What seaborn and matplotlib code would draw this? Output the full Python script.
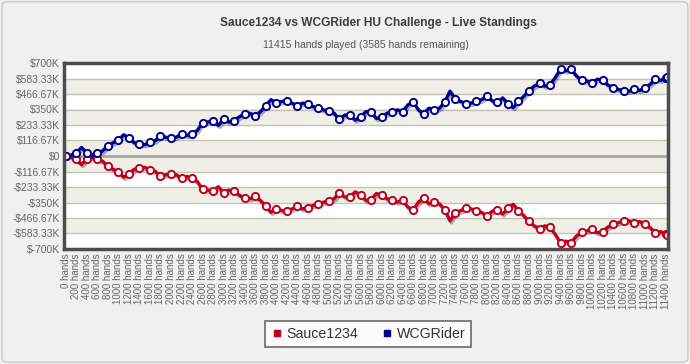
import matplotlib
matplotlib.use('Agg')
import matplotlib.pyplot as plt
import matplotlib.patheffects as pe
from matplotlib.lines import Line2D
from matplotlib.patches import FancyBboxPatch
import pandas as pd
import seaborn as sns

# running totals in $K, sampled every 100 hands plus the last hand played
hands = list(range(0, 11401, 100)) + [11415]

wcgrider = [
    0, 5, 25, 64, 23, -13, 25, 38, 77, 100,
    118, 160, 136, 100, 92, 85, 102, 115, 154, 141,
    136, 141, 167, 154, 167, 192, 252, 256, 262, 231,
    277, 256, 267, 295, 318, 321, 303, 334, 380, 424,
    398, 410, 416, 398, 380, 398, 390, 372, 360, 347,
    339, 321, 275, 308, 308, 270, 293, 334, 329, 283,
    293, 321, 334, 347, 334, 385, 406, 347, 318, 360,
    344, 360, 406, 488, 429, 411, 395, 398, 411, 424,
    452, 416, 403, 437, 395, 364, 411, 449, 493, 526,
    547, 526, 537, 591, 655, 641, 652, 603, 570, 564,
    552, 578, 570, 534, 513, 501, 488, 488, 503, 493,
    513, 539, 578, 570, 585,
    591,
]

sauce = [
    0, -5, -25, -64, -23, 13, -25, -38, -77, -100,
    -118, -160, -136, -100, -92, -85, -102, -115, -154, -141,
    -136, -141, -167, -154, -167, -192, -252, -256, -262, -231,
    -277, -256, -267, -295, -318, -321, -303, -334, -380, -424,
    -398, -410, -416, -398, -380, -398, -390, -372, -360, -347,
    -339, -321, -275, -308, -308, -270, -293, -334, -329, -283,
    -293, -321, -334, -347, -334, -385, -406, -347, -318, -360,
    -344, -360, -406, -488, -429, -411, -395, -398, -411, -424,
    -452, -416, -403, -437, -395, -364, -411, -449, -493, -526,
    -547, -526, -537, -591, -655, -641, -652, -603, -570, -564,
    -552, -578, -570, -534, -513, -501, -488, -488, -503, -493,
    -513, -539, -578, -570, -585,
    -591,
]

players = ['Sauce1234', 'WCGRider']
colors = {'Sauce1234': '#c2001e', 'WCGRider': '#00008f'}

xticks = list(range(0, 11401, 200))
xlabels = [f'{h} hands' for h in xticks]
yticks = [-700, -583.33, -466.67, -350, -233.33, -116.67, 0,
          116.67, 233.33, 350, 466.67, 583.33, 700]
ylabels = ['$-700K', '-$583.33K', '-$466.67K', '-$350K', '-$233.33K', '-$116.67K', '$0',
           '$116.67K', '$233.33K', '$350K', '$466.67K', '$583.33K', '$700K']

df = pd.DataFrame({
    'hands': hands * 2,
    'amount': sauce + wcgrider,
    'player': ['Sauce1234'] * len(hands) + ['WCGRider'] * len(hands),
})
# markers only every 200 hands and at the final hand
marks = df[(df['hands'] % 200 == 0) | (df['hands'] == hands[-1])]

sns.set_style('white')
plt.rcParams['font.family'] = ['Liberation Sans', 'DejaVu Sans']

fig = plt.figure(figsize=(6.9, 3.64), dpi=100, facecolor='#f0f0f0')
ax = fig.add_axes([64 / 690, 1 - 249 / 364, 604 / 690, 186 / 364])
ax.set_facecolor('white')

beige = '#efefe7'
for lo, hi in [(466.67, 583.33), (233.33, 350), (0, 116.67),
               (-116.67, 0), (-350, -233.33), (-583.33, -466.67)]:
    ax.axhspan(lo, hi, color=beige, zorder=0, lw=0)
for t in yticks:
    ax.axhline(t, color='#c4c4b6', lw=1, zorder=1)
ax.axhline(0, color='#a8a8a0', lw=2, zorder=1)

for p in players:
    sub = df[df['player'] == p]
    sns.lineplot(data=sub, x='hands', y='amount', color=colors[p], estimator=None,
                 sort=False, linewidth=2.4, ax=ax, zorder=3,
                 path_effects=[pe.SimpleLineShadow(offset=(1, -1.5), shadow_color='black', alpha=0.3),
                               pe.Normal()])
    sns.lineplot(data=marks[marks['player'] == p], x='hands', y='amount', estimator=None,
                 sort=False, linestyle='', marker='o', markersize=5.2,
                 markerfacecolor='white', markeredgecolor=colors[p], markeredgewidth=1.4,
                 ax=ax, zorder=4)

ax.set_xlim(-32, 11440)
ax.set_ylim(-700, 700)
ax.set_xticks(xticks)
ax.set_xticklabels(xlabels, rotation=90, fontsize=7, color='#666666')
ax.set_yticks(yticks)
ax.set_yticklabels(ylabels, fontsize=7.4, color='#666666')
ax.tick_params(axis='x', length=0, pad=3)
ax.tick_params(axis='y', length=2, color='#888888', pad=1)
ax.set_xlabel('')
ax.set_ylabel('')
for s in ax.spines.values():
    s.set_color('#4d4d4d')
    s.set_linewidth(2.5)
    s.set_zorder(5)

fig.text(378 / 690, 1 - 23 / 364, 'Sauce1234 vs WCGRider HU Challenge - Live Standings',
         ha='center', va='center', fontsize=8.6, fontweight='bold', color='#3d3d3d')
fig.text(366 / 690, 1 - 45 / 364, '11415 hands played (3585 hands remaining)',
         ha='center', va='center', fontsize=7.5, color='#555555')

handles = [Line2D([], [], marker='s', linestyle='none', markersize=5,
                  color=colors[p]) for p in players]
leg = fig.legend(handles, players, loc='center', bbox_to_anchor=(368 / 690, 1 - 334 / 364),
                 ncol=2, fontsize=10.2, frameon=True, fancybox=False, handletextpad=0.3,
                 columnspacing=1.6, borderpad=0.4, handlelength=0.8)
leg.get_frame().set_edgecolor('#555555')
leg.get_frame().set_linewidth(1.3)
for t in leg.get_texts():
    t.set_color('#333333')

fig.patches.append(FancyBboxPatch((0.003, 0.005), 0.994, 0.99, boxstyle='round,pad=0,rounding_size=0.01',
                                  transform=fig.transFigure, fill=False, edgecolor='#c8c8c8', lw=1))

fig.savefig('out.png', dpi=100, facecolor=fig.get_facecolor())
